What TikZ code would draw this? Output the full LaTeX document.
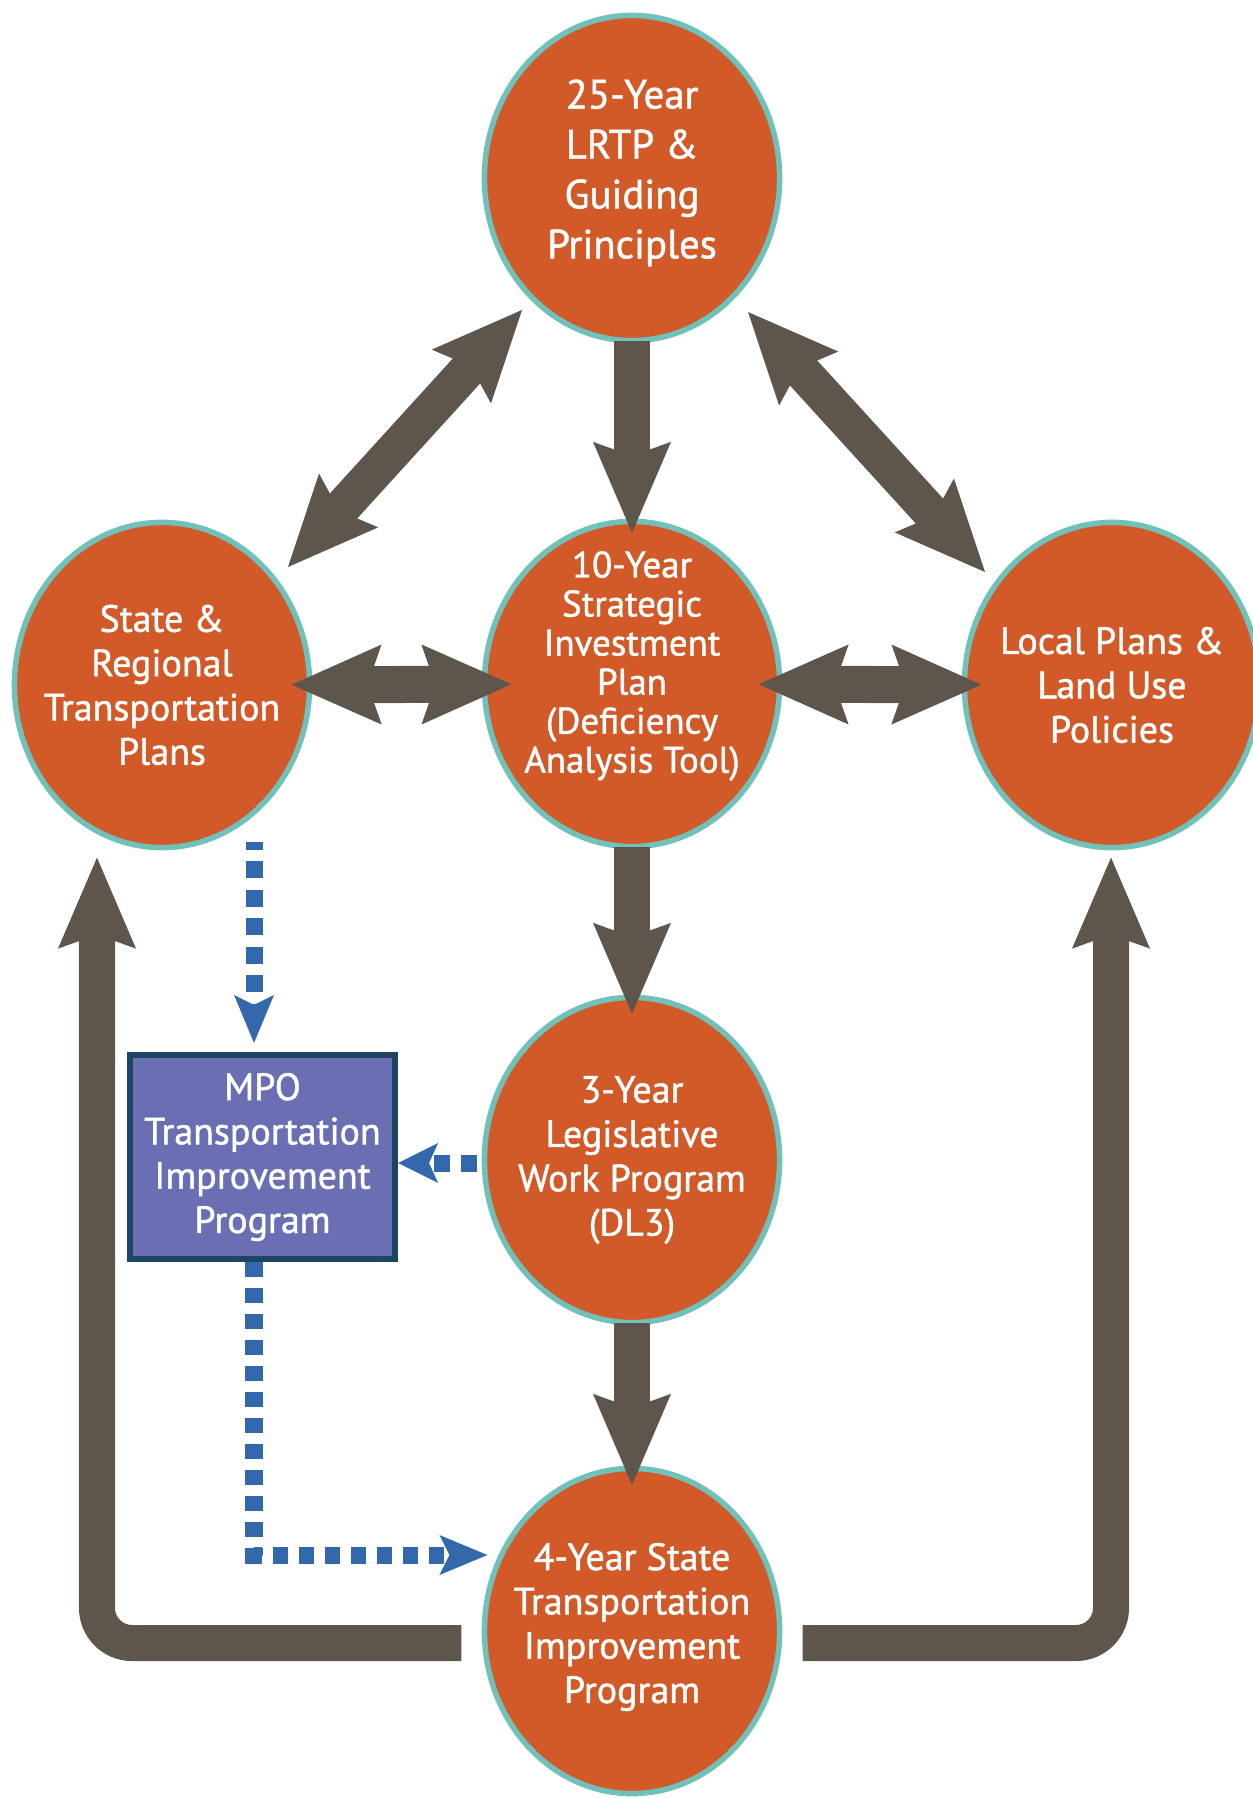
\documentclass[tikz,border=0pt]{standalone}
\usepackage{fontspec}
\setmainfont{PT Sans}[FakeBold=1.2]
\usetikzlibrary{shapes.geometric,arrows.meta,backgrounds}
\definecolor{orng}{RGB}{209,90,40}
\definecolor{tealring}{RGB}{112,193,186}
\definecolor{brwn}{RGB}{94,86,77}
\definecolor{dblue}{RGB}{51,105,172}
\definecolor{mpofill}{RGB}{105,111,178}
\definecolor{mpoline}{RGB}{27,69,99}
\begin{document}
\begin{tikzpicture}[x=0.01cm,y=-0.01cm,
  bub/.style={ellipse, fill=orng, draw=tealring, line width=0.055cm,
    minimum width=2.95cm, minimum height=3.25cm, inner sep=0pt, outer sep=0pt},
  txt/.style={text=white, align=center, inner sep=0pt},
  bigtxt/.style={txt, font=\fontsize{11.6pt}{14.2pt}\selectfont},
  midtxt/.style={txt, font=\fontsize{10.8pt}{12.6pt}\selectfont},
  smtxt/.style={txt, font=\fontsize{10.5pt}{11.1pt}\selectfont},
  bigarrow/.style={draw=brwn, line width=0.36cm,
    -{Stealth[length=0.91cm,width=0.78cm,inset=0.14cm,line width=0pt]}},
  dblarrow/.style={draw=brwn, line width=0.37cm,
    {Stealth[length=0.9cm,width=0.8cm,inset=0.14cm,line width=0pt]}-{Stealth[length=0.9cm,width=0.8cm,inset=0.14cm,line width=0pt]}},
  bluearrow/.style={draw=dblue, line width=0.17cm, dash pattern=on 0.16cm off 0.11cm,
    -{Stealth[length=0.48cm,width=0.4cm,inset=0.1cm,line width=0pt]}},
  mpobox/.style={rectangle, fill=mpofill, draw=mpoline, line width=0.06cm,
    minimum width=2.65cm, minimum height=2.04cm, outer sep=0pt}
]
\useasboundingbox (0,0) rectangle (1252,1798);

% circles
\node[bub] (c25) at (632,178) {};
\node[bub] (c10) at (632,684) {};
\node[bub] (cst) at (162,685) {};
\node[bub] (clo) at (1112,685) {};
\node[bub] (c3) at (632,1160) {};
\node[bub] (c4) at (632,1631) {};

% MPO box
\node[mpobox, midtxt] (mpo) at (262.5,1157) {MPO\\Transportation\\Improvement\\Program};

% texts
\node[bigtxt] (t25) at ([yshift=0.05cm]c25.center) {25-Year\\LRTP \&\\Guiding\\Principles};
\node[smtxt] (t10) at ([yshift=0.18cm]c10.center) {10-Year\\Strategic\\Investment\\Plan\\(Deficiency\\Analysis Tool)};
\node[midtxt] (tst) at (cst.center) {State \&\\Regional\\Transportation\\Plans};
\node[midtxt] (tlo) at (clo.center) {Local Plans \&\\Land Use\\Policies};
\node[midtxt] (t3) at (c3.center) {3-Year\\Legislative\\Work Program\\(DL3)};
\node[midtxt] (t4) at ([yshift=0.04cm]c4.center) {4-Year State\\Transportation\\Improvement\\Program};

% blue dotted connectors
\draw[bluearrow, dash pattern=on 0.17cm off 0.115cm, dash phase=0.09cm]
  ([shift={(92,-6)}]cst.south) -- ([shift={(-8.5,-12)}]mpo.north);
\begin{scope}[on background layer]
\draw[bluearrow, -{Stealth[length=0.4cm,width=0.4cm,inset=0.09cm,line width=0pt]}]
  ([shift={(20,3)}]c3.west) -- ([shift={(3,6)}]mpo.east);
\end{scope}
\draw[bluearrow, dash pattern=on 0.15cm off 0.11cm, dash phase=0.235cm]
  ([xshift=-0.085cm]mpo.south) |- ([shift={(3,-76)}]c4.west);

% brown arrows
\draw[bigarrow, shorten >=-0.115cm] (c25) -- (c10);
\draw[bigarrow, shorten >=-0.165cm] (c10) -- (c3);
\draw[bigarrow, shorten >=-0.165cm] (c3) -- (c4);
\draw[dblarrow] ([shift={(126,-118)}]cst.center) -- ([shift={(-110,132)}]c25.center);
\draw[dblarrow] ([shift={(116,134)}]c25.center) -- ([shift={(-127,-113)}]clo.center);
\draw[dblarrow, shorten <=-0.18cm, shorten >=-0.27cm] (cst) -- (c10);
\draw[dblarrow, shorten <=-0.21cm, shorten >=-0.17cm] (c10) -- (clo);
\draw[bigarrow, rounded corners=0.35cm] ([shift={(-23,12)}]c4.west) -| ([shift={(-65,10)}]cst.south);
\draw[bigarrow, rounded corners=0.35cm] ([shift={(23,12)}]c4.east) -| ([shift={(-1,10)}]clo.south);
\end{tikzpicture}
\end{document}
